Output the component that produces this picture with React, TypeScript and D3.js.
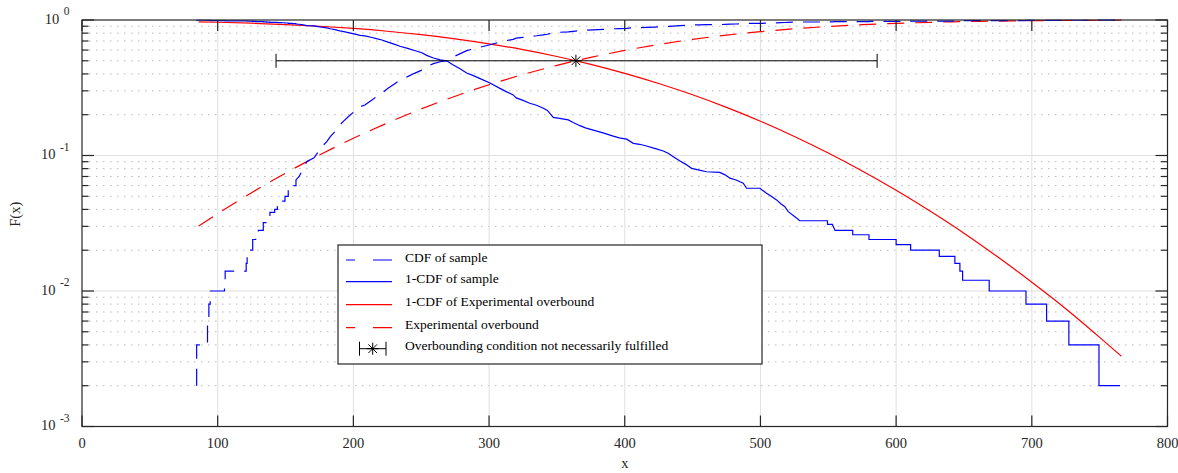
import React from 'react';
import * as d3 from 'd3';

// ---------- data ----------
const xTicks = [0, 100, 200, 300, 400, 500, 600, 700, 800];
const yDecades = [1e-3, 1e-2, 1e-1, 1];
const yExponents = ['-3', '-2', '-1', '0'];

const sampleCdfLow: [number, number][] = [
  [84.5, 0.002], [84.5, 0.004], [92.5, 0.004], [92.5, 0.006], [93.5, 0.006], [93.5, 0.008],
  [94.5, 0.008], [94.5, 0.010], [105, 0.010], [105, 0.012], [105.5, 0.012], [105.5, 0.014],
  [121, 0.014], [121, 0.016], [121.7, 0.016], [121.7, 0.018], [122.3, 0.018], [122.3, 0.020],
  [125.8, 0.020], [125.8, 0.024], [128, 0.024], [128, 0.026], [130, 0.026], [130, 0.028],
  [133.6, 0.028], [133.6, 0.032], [136, 0.032], [136, 0.034], [138.5, 0.034], [138.5, 0.038],
  [142, 0.038], [142, 0.040], [144, 0.040], [144, 0.042], [147, 0.042], [147, 0.046],
  [149.6, 0.046], [149.6, 0.050], [152, 0.050], [152, 0.056], [155, 0.056], [155, 0.060],
  [157.7, 0.060], [157.7, 0.066], [160, 0.070], [163, 0.080], [165.6, 0.090], [171, 0.096],
  [174, 0.106], [176.6, 0.116], [180.3, 0.126], [183, 0.138], [186.4, 0.150], [190, 0.168],
  [193, 0.180], [196.2, 0.193], [200.4, 0.210], [205, 0.229], [208.5, 0.236], [213.7, 0.257],
  [217, 0.272], [221, 0.288], [225.5, 0.313], [230, 0.336], [234.3, 0.360], [240, 0.382],
  [245, 0.404], [250.5, 0.427], [254, 0.452], [259, 0.476], [264, 0.492], [268.7, 0.500],
];

// 1-CDF of the sample, upper part
const sampleSurvHigh: [number, number][] = [
  [268.7, 0.500], [273, 0.470], [278, 0.440], [283.5, 0.406], [288, 0.390], [293, 0.371],
  [300.7, 0.343], [308, 0.313], [313, 0.295], [317.8, 0.280], [320, 0.266], [325, 0.255],
  [330, 0.243], [335, 0.235], [340, 0.223], [343, 0.215], [347.3, 0.191], [352, 0.188],
  [358.4, 0.183], [362, 0.175], [367, 0.166], [371, 0.160], [376.8, 0.154], [384, 0.147],
  [391.5, 0.139], [396, 0.135], [401.4, 0.132], [406.3, 0.123], [411, 0.121], [416, 0.1175],
  [422, 0.113], [428.4, 0.108], [432, 0.104], [435.8, 0.098], [440.7, 0.091], [445, 0.086],
  [449.3, 0.0804], [455, 0.078], [460.3, 0.0759], [470, 0.075], [474, 0.072], [477.5, 0.068],
  [482, 0.066], [487.3, 0.0624], [489.8, 0.0573], [499.6, 0.0573], [504.5, 0.0526], [508, 0.050],
  [511.9, 0.047], [515, 0.044], [518, 0.0419], [520.5, 0.0385], [525.4, 0.0353], [529, 0.033],
  [549.4, 0.033], [549.4, 0.031], [553, 0.031], [555, 0.028], [568, 0.028], [568, 0.026],
  [580, 0.026], [580, 0.024], [600, 0.024], [600, 0.022], [610.7, 0.022], [610.7, 0.020],
  [631.8, 0.020], [631.8, 0.018], [643.3, 0.018], [643.3, 0.016], [647, 0.016], [647, 0.014],
  [649, 0.014], [649, 0.012], [668.6, 0.012], [668.6, 0.010], [695.7, 0.010], [695.7, 0.008],
  [710.9, 0.008], [710.9, 0.006], [727.3, 0.006], [727.3, 0.004], [749.5, 0.004], [749.5, 0.002],
  [765, 0.002],
];

// experimental overbound CDF
const overboundX = [86, 100, 125, 150, 175, 200, 225, 250, 275, 300, 325, 350, 375, 400, 425,
  450, 475, 500, 525, 550, 575, 600, 625, 650, 675, 700, 725, 750, 766];
const overboundCdf = [0.0302, 0.0372, 0.0532, 0.0741, 0.1008, 0.1339, 0.1738, 0.2206, 0.2739,
  0.3329, 0.3960, 0.4623, 0.5296, 0.5961, 0.6599, 0.7194, 0.7734, 0.8209, 0.8617, 0.8956,
  0.9231, 0.9446, 0.9611, 0.9733, 0.9822, 0.9884, 0.9926, 0.99545, 0.9967];

// error bar: center, low, high, level
const errCenter = [364, 0.5];
const errRange = [143, 586];

const legendLabels = [
  'CDF of sample',
  '1-CDF of sample',
  '1-CDF of Experimental overbound',
  'Experimental overbound',
  'Overbounding condition not necessarily fulfilled',
];

const BLUE = '#0000ff';
const RED = '#ff0000';
const FONT = 'Liberation Serif, Times New Roman, serif';

function Star({ cx, cy, r }: { cx: number; cy: number; r: number }) {
  const d = r * 0.72;
  return (
    <g stroke="#000" strokeWidth={1}>
      <line x1={cx - r} y1={cy} x2={cx + r} y2={cy} />
      <line x1={cx} y1={cy - r} x2={cx} y2={cy + r} />
      <line x1={cx - d} y1={cy - d} x2={cx + d} y2={cy + d} />
      <line x1={cx - d} y1={cy + d} x2={cx + d} y2={cy - d} />
    </g>
  );
}

export default function App() {
  const W = 1178, H = 473;
  const x = d3.scaleLinear().domain([0, 800]).range([82, 1167.5]);
  const y = d3.scaleLog().domain([1e-3, 1]).range([426.5, 20]);
  const [x0, x1] = x.range();
  const [yb, yt] = y.range();

  const poly = d3.line<[number, number]>().x(d => x(d[0])).y(d => y(d[1]));
  const smooth = d3.line<[number, number]>().x(d => x(d[0])).y(d => y(d[1])).curve(d3.curveMonotoneX);

  const blueCdf: [number, number][] = [
    ...sampleCdfLow,
    ...sampleSurvHigh.slice(1).map(([a, s]) => [a, 1 - s] as [number, number]),
  ];
  const blueSurv: [number, number][] = [
    ...sampleCdfLow.map(([a, f]) => [a, 1 - f] as [number, number]),
    ...sampleSurvHigh.slice(1),
  ];
  const redCdf: [number, number][] = overboundX.map((v, i) => [v, overboundCdf[i]]);
  const redSurv: [number, number][] = overboundX.map((v, i) => [v, 1 - overboundCdf[i]]);

  const minorVals: number[] = [];
  yDecades.slice(0, 3).forEach(d => { for (let k = 2; k <= 9; k++) minorVals.push(k * d); });

  const ey = y(errCenter[1]);
  const exl = x(errRange[0]), exh = x(errRange[1]), exc = x(errCenter[0]);

  // legend geometry
  const lg = { x: 338, y: 245, w: 424, h: 119 };
  const rowY = [260, 281.7, 304.7, 327.7, 348.7];
  const sx0 = 346, sx1 = 392, tx = 405;
  const txt = { fontFamily: FONT };

  return (
    <svg width={W} height={H} style={{ position: 'absolute', left: 0, top: 0, background: '#fff', fontFamily: FONT }}>
      <defs>
        <clipPath id="plot">
          <rect x={x0} y={yt - 2} width={x1 - x0} height={yb - yt + 2} />
        </clipPath>
      </defs>
      <rect x={0} y={0} width={W} height={H} fill="#fff" />

      {/* minor dotted grid */}
      {minorVals.map(v => (
        <line key={'mg' + v} x1={x0} x2={x1} y1={y(v)} y2={y(v)} stroke="#b8b8b8"
          strokeWidth={1} strokeDasharray="1.5 5.5" />
      ))}
      {/* major grid */}
      {xTicks.slice(1, -1).map(t => (
        <line key={'gx' + t} x1={x(t)} x2={x(t)} y1={yt} y2={yb} stroke="#e0e0e0" strokeWidth={1} />
      ))}
      {yDecades.slice(1, -1).map(t => (
        <line key={'gy' + t} x1={x0} x2={x1} y1={y(t)} y2={y(t)} stroke="#e0e0e0" strokeWidth={1.2} />
      ))}

      {/* curves */}
      <g clipPath="url(#plot)" fill="none">
        <path d={smooth(redCdf) || ''} stroke={RED} strokeWidth={1.2} strokeDasharray="17 11" />
        <path d={smooth(redSurv) || ''} stroke={RED} strokeWidth={1.2} />
        <path d={poly(blueCdf) || ''} stroke={BLUE} strokeWidth={1.2} strokeDasharray="17 10" />
        <path d={poly(blueSurv) || ''} stroke={BLUE} strokeWidth={1.2} />
      </g>

      {/* error bar */}
      <g stroke="#000" strokeWidth={1}>
        <line x1={exl} x2={exh} y1={ey} y2={ey} />
        <line x1={exl} x2={exl} y1={ey - 7} y2={ey + 7} />
        <line x1={exh} x2={exh} y1={ey - 7} y2={ey + 7} />
      </g>
      <Star cx={exc} cy={ey} r={6} />

      {/* axes box */}
      <rect x={x0} y={yt} width={x1 - x0} height={yb - yt} fill="none" stroke="#262626" strokeWidth={1.2} />
      {/* x ticks */}
      {xTicks.map(t => (
        <g key={'xt' + t} stroke="#262626" strokeWidth={1.2}>
          <line x1={x(t)} x2={x(t)} y1={yb} y2={yb - 11} />
          <line x1={x(t)} x2={x(t)} y1={yt} y2={yt + 11} />
        </g>
      ))}
      {xTicks.map(t => (
        <text key={'xl' + t} x={x(t)} y={448} textAnchor="middle" fontSize={14.5} fill="#262626" style={txt}>{t}</text>
      ))}
      {/* y ticks */}
      {yDecades.map(t => (
        <g key={'yt' + t} stroke="#262626" strokeWidth={1.2}>
          <line x1={x0} x2={x0 + 12} y1={y(t)} y2={y(t)} />
          <line x1={x1} x2={x1 - 12} y1={y(t)} y2={y(t)} />
        </g>
      ))}
      {minorVals.map(t => (
        <g key={'ymt' + t} stroke="#262626" strokeWidth={1.2}>
          <line x1={x0} x2={x0 + 6.5} y1={y(t)} y2={y(t)} />
          <line x1={x1} x2={x1 - 6.5} y1={y(t)} y2={y(t)} />
        </g>
      ))}
      {yDecades.map((t, i) => (
        <text key={'yl' + t} x={69.5} y={y(t) + 3.8} textAnchor="end" fontSize={14.5} fill="#262626" style={txt}>
          10<tspan dx={4.5} dy={-8.5} fontSize={11.5}>{yExponents[i]}</tspan>
        </text>
      ))}

      {/* axis labels */}
      <text x={(x0 + x1) / 2} y={468} textAnchor="middle" fontSize={14.5} fill="#262626" style={txt}>x</text>
      <text transform={`translate(20, ${(yt + yb) / 2 - 9}) rotate(-90)`} textAnchor="middle"
        fontSize={14.5} fill="#262626" style={txt}>F(x)</text>

      {/* legend */}
      <rect x={lg.x} y={lg.y} width={lg.w} height={lg.h} fill="#fff" stroke="#262626" strokeWidth={1.2} />
      <line x1={sx0} x2={sx1} y1={rowY[0]} y2={rowY[0]} stroke={BLUE} strokeWidth={1.2} strokeDasharray="9 18 19" />
      <line x1={sx0} x2={sx1} y1={rowY[1]} y2={rowY[1]} stroke={BLUE} strokeWidth={1.2} />
      <line x1={sx0} x2={sx1} y1={rowY[2]} y2={rowY[2]} stroke={RED} strokeWidth={1.2} />
      <line x1={sx0} x2={sx1} y1={rowY[3]} y2={rowY[3]} stroke={RED} strokeWidth={1.2} strokeDasharray="9 18 19" />
      <g stroke="#000" strokeWidth={1}>
        <line x1={359.5} x2={386} y1={rowY[4]} y2={rowY[4]} />
        <line x1={359.5} x2={359.5} y1={rowY[4] - 7} y2={rowY[4] + 7} />
        <line x1={386} x2={386} y1={rowY[4] - 7} y2={rowY[4] + 7} />
      </g>
      <Star cx={372.7} cy={rowY[4]} r={6} />
      {legendLabels.map((l, i) => (
        <text key={l} x={tx} y={rowY[i] + 1.5} fontSize={13.5} fill="#000" style={txt}>{l}</text>
      ))}
    </svg>
  );
}
